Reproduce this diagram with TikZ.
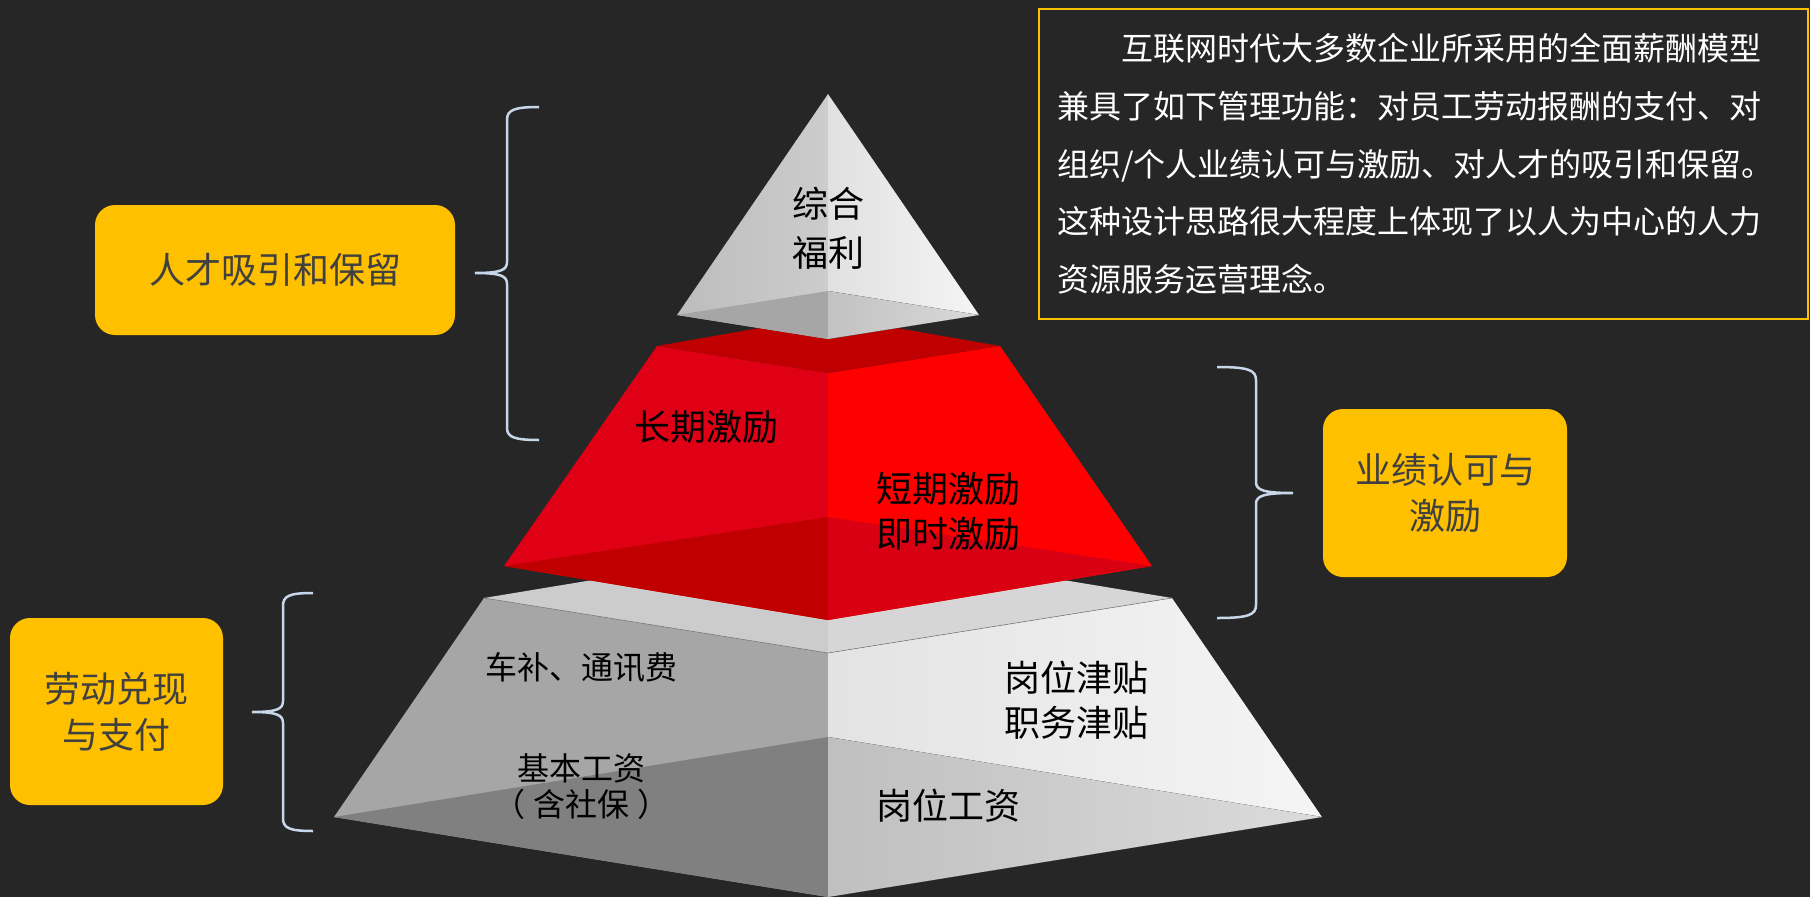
\documentclass[tikz,border=0pt]{standalone}
\usepackage{fontspec}
\setmainfont{Noto Sans CJK SC}
\usepackage{tikz}
\usetikzlibrary{positioning}
\usepackage{xcolor}

\definecolor{bg}{HTML}{262626}
\definecolor{gold}{HTML}{FFC000}
\definecolor{ink}{HTML}{404040}
\definecolor{bluegrey}{HTML}{C8D6EA}
\definecolor{redtop}{HTML}{C00000}
\definecolor{redleft}{HTML}{E00016}
\definecolor{redright}{HTML}{FF0000}
\definecolor{redinner}{HTML}{D80012}

\begin{document}
\begin{tikzpicture}[x=1pt,y=-1pt,
  aimbox/.style={fill=gold,rounded corners=20pt,text=ink,align=center,
    font=\fontsize{36}{46}\selectfont},
  lvltext/.style={align=center,text=black,font=\fontsize{36}{45}\selectfont},
  lvlsmall/.style={align=center,text=black,font=\fontsize{32}{36}\selectfont},
  bracket/.style={draw=bluegrey,line width=2.5pt}]

  % background
  \fill[bg] (0,0) rectangle (1810,897);
  \useasboundingbox (0,0) rectangle (1810,897);

  % bottom level
  \coordinate (gtl) at (484,598);
  \coordinate (gtb) at (828,541);
  \coordinate (gtr) at (1172,598);
  \coordinate (gtf) at (828,653);
  \coordinate (gbl) at (334,817);
  \coordinate (gbb) at (828,737);
  \coordinate (gbr) at (1322,817);
  \coordinate (gbf) at (828,897);
  \fill[black!35] (gtl) -- (gtf) -- (gbf) -- (gbl) -- cycle;
  \fill[black!50] (gbl) -- (gbb) -- (gbf) -- cycle;
  \fill[left color=black!11,right color=black!4] (gtf) -- (gtr) -- (gbr) -- (gbf) -- cycle;
  \fill[left color=black!25,right color=black!14] (gbb) -- (gbr) -- (gbf) -- cycle;
  \fill[black!20] (gtl) -- (gtb) -- (gtf) -- cycle;
  \fill[black!16] (gtb) -- (gtr) -- (gtf) -- cycle;
  \draw[black!50,line width=0.6pt] (gtl) -- (gtf) -- (gtr);

  % middle level
  \coordinate (rtl) at (657,346);
  \coordinate (rtb) at (828,316);
  \coordinate (rtr) at (1000,346);
  \coordinate (rtf) at (828,373);
  \coordinate (rbl) at (504,566);
  \coordinate (rbb) at (828,517);
  \coordinate (rbr) at (1152,566);
  \coordinate (rbf) at (828,620);
  \fill[redleft] (rtl) -- (rtf) -- (rbf) -- (rbl) -- cycle;
  \fill[redtop] (rbl) -- (rbb) -- (rbf) -- cycle;
  \fill[redright] (rtf) -- (rtr) -- (rbr) -- (rbf) -- cycle;
  \fill[redinner] (rbb) -- (rbr) -- (rbf) -- cycle;
  \fill[redtop] (rtl) -- (rtb) -- (rtr) -- (rtf) -- cycle;

  % top level
  \coordinate (pa) at (828,94);
  \coordinate (pl) at (677,315);
  \coordinate (pb) at (828,291);
  \coordinate (pr) at (979,315);
  \coordinate (pf) at (828,339);
  \fill[left color=black!26,right color=black!20] (pa) -- (pl) -- (pf) -- cycle;
  \fill[left color=black!12,right color=black!4] (pa) -- (pf) -- (pr) -- cycle;
  \fill[black!35] (pl) -- (pb) -- (pf) -- cycle;
  \fill[left color=black!24,right color=black!15] (pb) -- (pr) -- (pf) -- cycle;

  % texts on the pyramid
  \node[lvltext] (zonghe) at (828,228) {综合\\[4pt]福利};
  \node[lvltext] (changqi) at (706,427) {长期激励};
  \node[lvltext] (duanqi) at (948,511) {短期激励\\即时激励};
  \node[lvlsmall] (chebu) at (581,667) {车补、通讯费};
  \node[lvlsmall] (jiben) at (581,787) {基本工资\\（\hspace{8pt}含社保\hspace{8pt}）};
  \node[lvltext] (jintie) at (1076,700) {岗位津贴\\职务津贴};
  \node[lvltext] (gangwei) at (948,806) {岗位工资};

  % labels
  \node[aimbox,minimum width=360pt,minimum height=130pt] (rencai) at (275,270) {人才吸引和保留};
  \node[aimbox,minimum width=213pt,minimum height=187pt] (laodong) at (116.5,711.5) {劳动兑现\\与支付};
  \node[aimbox,minimum width=244pt,minimum height=168pt] (yeji) at (1445,493) {业绩认可与\\激励};

  % braces
  \draw[bracket] (539,107) .. controls (514,107) and (507,110) .. (507,120) -- (507,262)
    .. controls (507,270) and (501,273) .. (475,273) .. controls (501,273) and (507,276) .. (507,284)
    -- (507,428) .. controls (507,437) and (514,440) .. (539,440);
  \draw[bracket] (313,593) .. controls (289,593) and (283,596) .. (283,606) -- (283,701)
    .. controls (283,709) and (277,712) .. (252,712) .. controls (277,712) and (283,715) .. (283,723)
    -- (283,818) .. controls (283,828) and (289,831) .. (313,831);
  \draw[bracket] (1217,367) .. controls (1248,367) and (1256,370) .. (1256,380) -- (1256,482)
    .. controls (1256,490) and (1263,493) .. (1293,493) .. controls (1263,493) and (1256,496) .. (1256,504)
    -- (1256,605) .. controls (1256,615) and (1248,618) .. (1217,618);

  % description
  \node[draw=gold,line width=2pt,minimum width=769pt,minimum height=310pt,
    text width=733pt,inner sep=0pt,align=left,text=white,
    font=\fontsize{32}{57.7}\selectfont] (desc) at (1423.5,164)
    {\hspace*{2em}互联网时代大多数企业所采用的全面薪酬模型\\
     兼具了如下管理功能：对员工劳动报酬的支付、对\\
     组织/个人业绩认可与激励、对人才的吸引和保留。\\
     这种设计思路很大程度上体现了以人为中心的人力\\
     资源服务运营理念。};
\end{tikzpicture}
\end{document}
